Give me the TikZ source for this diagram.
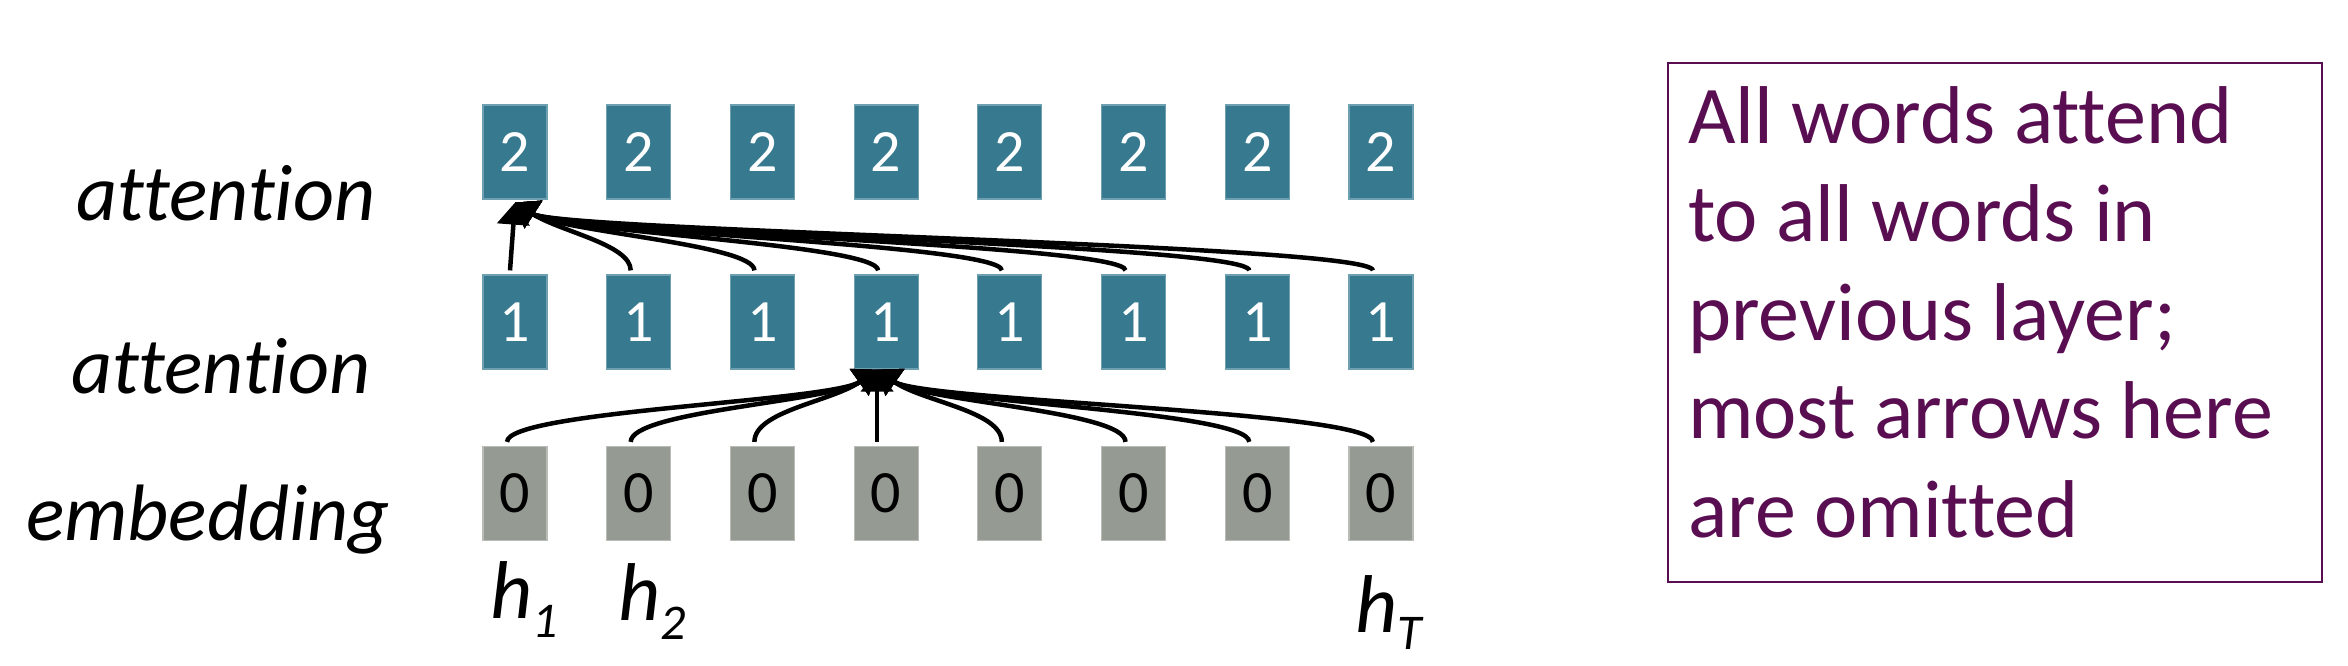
\documentclass[tikz,border=0pt]{standalone}
\usepackage{fontspec}
\setmainfont{Carlito}[Ligatures=NoCommon]
\usetikzlibrary{arrows.meta,calc}
\definecolor{tealbox}{RGB}{55,122,143}
\definecolor{tealedge}{RGB}{110,160,178}
\definecolor{greybox}{RGB}{149,154,147}
\definecolor{greyedge}{RGB}{185,188,183}
\definecolor{purp}{RGB}{90,14,82}
\begin{document}
\begin{tikzpicture}[x=1pt,y=-1pt,
  cell/.style={rectangle, minimum width=64pt, minimum height=94pt, inner sep=0pt, line width=1.2pt, font=\fontsize{60}{60}\selectfont},
  attn/.style={cell, fill=tealbox, draw=tealedge, text=white},
  emb/.style={cell, fill=greybox, draw=greyedge, text=black},
  conn/.style={line width=4.5pt, -{Triangle[width=32pt,length=22pt]}},
  lbl/.style={font=\fontsize{80}{96}\selectfont\itshape, anchor=base west, inner sep=0pt},
  hlbl/.style={font=\fontsize{82}{96}\selectfont\itshape, anchor=base west, inner sep=0pt}]
\useasboundingbox (0,0) rectangle (2348,666);
\foreach \k in {1,...,8} {
  \pgfmathsetmacro\xx{515+123.7*(\k-1)}
  \node[attn] (t\k) at (\xx,152) {2};
  \node[attn] (m\k) at (\xx,322) {1};
  \node[emb] (e\k) at (\xx,493.5) {0};
}
% top layer connectors
\coordinate (tipT) at ($(t1.south)+(0,3)$);
\draw[conn] ($(m1.north)+(-5,-4)$) -- (tipT);
\foreach \k in {2,...,8}
  \draw[conn] ($(m\k.north)+(-8,-4)$) .. controls +(0,-26) and +(45,29) .. (tipT);
% bottom layer connectors
\coordinate (tipB) at ($(m4.south)+(-9,0)$);
\foreach \k in {1,2,3}
  \draw[conn] ($(e\k.north)+(-8,-4)$) .. controls +(0,-31) and +(-45,32) .. (tipB);
\draw[conn] ($(e4.north)+(-9,-4)$) -- (tipB);
\foreach \k in {5,...,8}
  \draw[conn] ($(e\k.north)+(-8,-4)$) .. controls +(0,-31) and +(45,32) .. (tipB);
% left labels
\node[lbl] (l2) at (76,220) {attention};
\node[lbl] (l1) at (71,393) {attention};
\node[lbl] (l0) at (26,540) {embedding};
% h labels
\node[hlbl] (h1) at (490,618) {h\raisebox{-19pt}{\fontsize{50}{50}\selectfont 1}};
\node[hlbl] (h2) at (618,620) {h\raisebox{-19pt}{\fontsize{50}{50}\selectfont 2}};
\node[hlbl] (hT) at (1355,632) {h\raisebox{-17pt}{\fontsize{50}{50}\selectfont T}};
% note
\node[draw=purp, line width=2.2pt, minimum width=654pt, minimum height=519pt, inner sep=0pt] (notebox) at (1995,322.5) {};
\node[anchor=base west, inner sep=0pt, align=left, text=purp, font=\fontsize{82}{98.5}\selectfont] (notetext) at (1688,537)
  {All words attend\\to all words in\\previous layer;\\most arrows here\\are omitted};
\end{tikzpicture}
\end{document}
